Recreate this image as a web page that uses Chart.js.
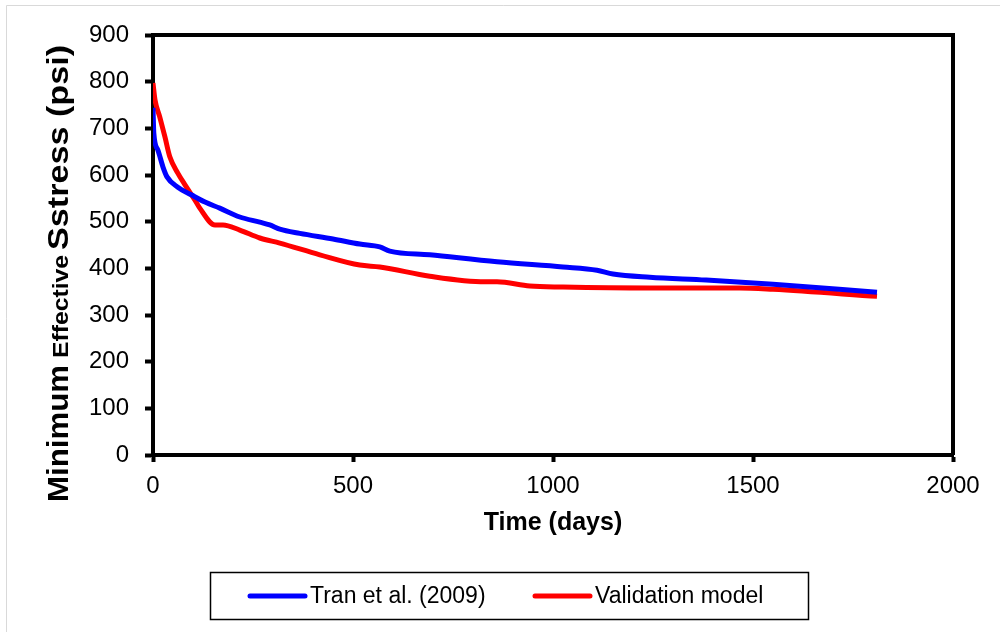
<!DOCTYPE html>
<html>
<head>
<meta charset="utf-8">
<script src="https://cdn.jsdelivr.net/npm/chart.js@4"></script>
<style>
  body { margin: 0; background: #fff; }
  #wrap { width: 1000px; height: 632px; }
</style>
</head>
<body>
<div id="wrap"><canvas id="stressChart" width="1000" height="632"></canvas></div>
<script>
// Tran et al. (2009) curve
const tranDays = [0, 2, 12, 25, 35, 62, 97, 130, 167, 217, 267, 292, 317, 367, 450, 517, 567, 592, 692, 860, 1025, 1110, 1150, 1242, 1383, 1550, 1810];
const tranPsi = [744, 690, 654, 617, 596, 574, 557, 542, 529, 510, 499, 493, 484, 475, 463, 452, 446, 437, 429, 414, 403, 396, 388, 381, 375, 366, 349];

// validation model curve
const modelDays = [0, 5, 17, 30, 42, 62, 80, 105, 117, 155, 175, 217, 267, 317, 417, 517, 567, 692, 830, 860, 942, 1025, 1242, 1467, 1550, 1810];
const modelPsi = [797, 761, 724, 681, 639, 604, 579, 546, 529, 493, 493, 482, 465, 454, 429, 407, 403, 383, 371, 371, 362, 360, 358, 358, 355, 340];

const xTicks = [0, 500, 1000, 1500, 2000];
const yTicks = [0, 100, 200, 300, 400, 500, 600, 700, 800, 900];

const toPoints = (xs, ys) => xs.map((x, i) => ({ x, y: ys[i] }));

// y title has mixed sizes, so it is drawn by hand: [text, font, start y, length]
const yTitleParts = [
  ['Minimum', 'bold 30px "Liberation Sans", Arial, sans-serif', 502, 137],
  ['Effective', 'bold 22px "Liberation Sans", Arial, sans-serif', 358, 103],
  ['Sstress (psi)', 'bold 30px "Liberation Sans", Arial, sans-serif', 250, 205],
];

const framePlugin = {
  id: 'frame',
  beforeDraw(chart) {
    const { ctx, width, height } = chart;
    ctx.save();
    ctx.fillStyle = '#fff';
    ctx.fillRect(0, 0, width, height);
    ctx.strokeStyle = '#d9d9d9';
    ctx.lineWidth = 1;
    ctx.beginPath();
    ctx.moveTo(6.5, height);
    ctx.lineTo(6.5, 5.5);
    ctx.lineTo(width, 5.5);
    ctx.stroke();
    ctx.restore();
  },
  beforeDatasetsDraw(chart) {
    const { ctx, chartArea: a } = chart;
    ctx.save();
    ctx.strokeStyle = '#000';
    ctx.lineWidth = 4;
    ctx.beginPath();
    ctx.moveTo(a.left - 2, a.top);
    ctx.lineTo(a.right, a.top);
    ctx.lineTo(a.right, a.bottom);
    ctx.stroke();
    ctx.restore();
  },
  afterDraw(chart) {
    const ctx = chart.ctx;
    ctx.save();
    ctx.fillStyle = '#000';
    ctx.textBaseline = 'alphabetic';
    ctx.textAlign = 'left';
    yTitleParts.forEach(([text, font, y0, len]) => {
      ctx.save();
      ctx.font = font;
      const w = ctx.measureText(text).width;
      ctx.translate(68, y0);
      ctx.rotate(-Math.PI / 2);
      ctx.scale(len / w, 1);
      ctx.fillText(text, 0, 0);
      ctx.restore();
    });

    // boxed legend under the x title
    ctx.strokeStyle = '#000';
    ctx.lineWidth = 1.5;
    ctx.strokeRect(210.5, 572.5, 598, 47);
    ctx.font = '23px "Liberation Sans", Arial, sans-serif';
    ctx.textBaseline = 'middle';
    ctx.lineCap = 'round';
    const starts = [250, 535];
    chart.data.datasets.forEach((ds, i) => {
      const x = starts[i];
      ctx.strokeStyle = ds.borderColor;
      ctx.lineWidth = 5;
      ctx.beginPath();
      ctx.moveTo(x, 596);
      ctx.lineTo(x + 55, 596);
      ctx.stroke();
      ctx.fillText(ds.label, x + 60, 597);
    });
    ctx.restore();
  },
};

new Chart(document.getElementById('stressChart'), {
  type: 'line',
  data: {
    datasets: [
      {
        label: 'Tran et al. (2009)',
        data: toPoints(tranDays, tranPsi),
        borderColor: '#0000ff',
        borderWidth: 5,
        pointRadius: 0,
        cubicInterpolationMode: 'monotone',
      },
      {
        label: 'Validation model',
        data: toPoints(modelDays, modelPsi),
        borderColor: '#ff0000',
        borderWidth: 5,
        pointRadius: 0,
        cubicInterpolationMode: 'monotone',
      },
    ],
  },
  options: {
    responsive: false,
    animation: false,
    layout: { padding: { left: 0, top: 35, right: 47, bottom: 90 } },
    plugins: { legend: { display: false }, tooltip: { enabled: false } },
    scales: {
      x: {
        type: 'linear',
        min: 0,
        max: 2000,
        afterFit: (scale) => { scale.height = 87; },
        afterBuildTicks: (scale) => { scale.ticks = xTicks.map((v) => ({ value: v })); },
        border: { display: true, color: '#000', width: 4 },
        grid: { drawOnChartArea: false, tickLength: 7, tickWidth: 4, tickColor: '#000' },
        ticks: {
          color: '#000',
          padding: 10,
          maxRotation: 0,
          callback: (v) => String(v),
          font: { family: '"Liberation Sans", Arial, sans-serif', size: 24 },
        },
        title: {
          display: true,
          text: 'Time (days)',
          color: '#000',
          padding: { top: 0, bottom: 4 },
          font: { family: '"Liberation Sans", Arial, sans-serif', size: 25, weight: 'bold' },
        },
      },
      y: {
        min: 0,
        max: 900,
        afterFit: (scale) => { scale.width = 153; },
        afterBuildTicks: (scale) => { scale.ticks = yTicks.map((v) => ({ value: v })); },
        border: { display: true, color: '#000', width: 4 },
        grid: { drawOnChartArea: false, tickLength: 8, tickWidth: 4, tickColor: '#000' },
        ticks: {
          color: '#000',
          padding: 16,
          callback: (v) => String(v),
          font: { family: '"Liberation Sans", Arial, sans-serif', size: 24 },
        },
      },
    },
  },
  plugins: [framePlugin],
});
</script>
</body>
</html>
